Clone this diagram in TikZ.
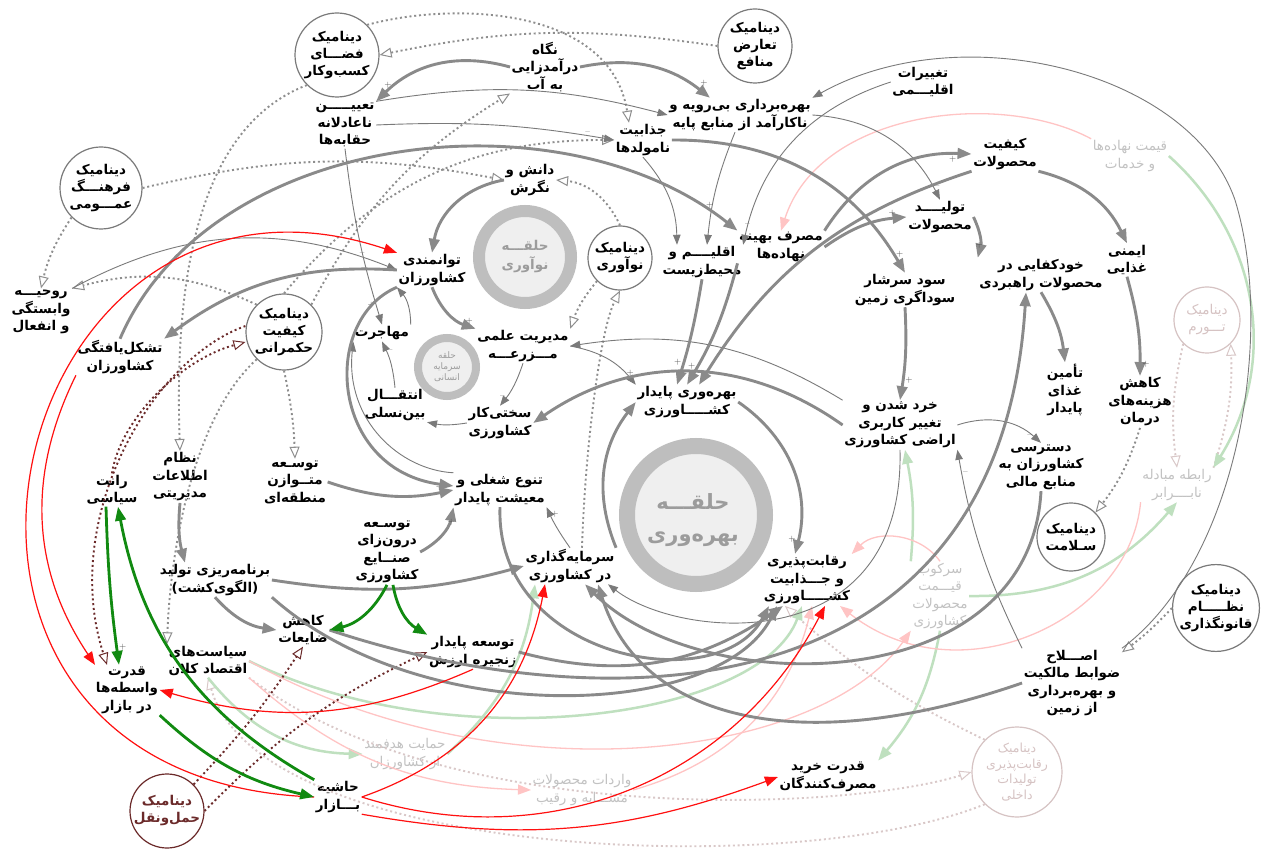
\documentclass[tikz,border=0pt]{standalone}
\usepackage{fontspec}
\usetikzlibrary{arrows.meta}
\TeXXeTstate=1
\newfontfamily\fa[Script=Arabic]{DejaVu Sans}
\newcommand\RL[1]{\beginR#1\endR}
\definecolor{edgegray}{HTML}{8A8A8A}
\definecolor{thingray}{HTML}{7A7A7A}
\definecolor{circgray}{HTML}{7A7A7A}
\definecolor{dotgray}{HTML}{8E8E8E}
\definecolor{ringgray}{HTML}{BEBEBE}
\definecolor{ringfill}{HTML}{EFEFEF}
\definecolor{ringtext}{HTML}{9C9C9C}
\definecolor{fadetext}{HTML}{C2C2C2}
\definecolor{fadecirc}{HTML}{D6C3C3}
\definecolor{fadedot}{HTML}{D9C8C8}
\definecolor{darkred}{HTML}{6B2A2A}
\definecolor{linkred}{HTML}{FF1010}
\definecolor{linkgreen}{HTML}{118A11}
\definecolor{palegreen}{HTML}{BFE0BF}
\definecolor{palered}{HTML}{FFC4C4}
\begin{document}
\begin{tikzpicture}[x=1pt,y=1pt,
  lbl/.style={font=\fa\bfseries\fontsize{13.5}{17.5}\selectfont,align=center,inner sep=1.5pt,text=black},
  fade/.style={font=\fa\fontsize{13.5}{17.5}\selectfont,align=center,inner sep=1.5pt,text=fadetext},
  dyn/.style={circle,draw=circgray,line width=1.2pt,fill=white,align=center,inner sep=0pt,
    font=\fa\bfseries\fontsize{13.5}{17}\selectfont},
  dynfade/.style={dyn,draw=fadecirc,text=fadecirc,font=\fa\fontsize{13.5}{17}\selectfont},
  ringtxt/.style={align=center,text=ringtext,inner sep=0pt},
  sgn/.style={font=\fontsize{9}{9}\selectfont,text=black!70,inner sep=1pt},
  arThick/.style={draw=edgegray,line width=2.9pt,-{Triangle[length=14pt,width=10.5pt]}},
  arThin/.style={draw=thingray,line width=0.9pt,-{Triangle[length=10pt,width=7.5pt]}},
  arDot/.style={draw=dotgray,line width=1.9pt,dash pattern=on 2pt off 2.8pt,-{Triangle[open,length=12pt,width=10pt,line width=1pt]}},
  arDotPale/.style={draw=fadedot,line width=1.9pt,dash pattern=on 2pt off 2.8pt,-{Triangle[open,length=12pt,width=10pt,line width=1pt]}},
  arDotDR/.style={draw=darkred,line width=1.9pt,dash pattern=on 2pt off 2.8pt,-{Triangle[open,length=12pt,width=10pt,line width=1pt]}},
  arRed/.style={draw=linkred,line width=1.2pt,-{Triangle[length=13pt,width=10pt]}},
  arGreen/.style={draw=linkgreen,line width=2.8pt,-{Triangle[length=14pt,width=10.5pt]}},
  arPaleG/.style={draw=palegreen,line width=2.5pt,-{Triangle[length=14pt,width=10.5pt]}},
  arPaleR/.style={draw=palered,line width=1.3pt,-{Triangle[length=13pt,width=10pt]}}]
\useasboundingbox (0,0) rectangle (1270,-850);
\fill[white] (0,0) rectangle (1270,-850);

% ---------- loops (rings) ----------
\node[circle,draw=ringgray,line width=12pt,fill=ringfill,minimum size=92pt] (Lno) at (525,-257) {};
\node[ringtxt,font=\fa\bfseries\fontsize{13.5}{19}\selectfont] (Lnot) at (525,-257) {\RL{حلقـــه}\\\RL{نوآوری}};
\node[circle,draw=ringgray,line width=8pt,fill=ringfill,minimum size=58pt] (Lsi) at (447,-367) {};
\node[ringtxt,font=\fa\fontsize{9}{11}\selectfont] (Lsit) at (447,-367) {\RL{حلقه}\\\RL{سرمایه}\\\RL{انسانی}};
\node[circle,draw=ringgray,line width=16pt,fill=ringfill,minimum size=138pt] (Lb) at (696,-515) {};
\node[ringtxt,font=\fa\bfseries\fontsize{21}{32}\selectfont] (Lbt) at (693,-520) {\RL{حلقـــه}\\\RL{بهره‌وری}};

% ---------- dynamics (circles) ----------
\node[dyn,minimum size=84pt] (cb) at (337,-55) {\RL{دینامیک}\\\RL{فضـــای}\\\RL{کسب‌وکار}};
\node[dyn,minimum size=74pt] (tm) at (755,-46) {\RL{دینامیک}\\\RL{تعارض}\\\RL{منافع}};
\node[dyn,minimum size=82pt] (fa) at (101,-188) {\RL{دینامیک}\\\RL{فرهنـــگ}\\\RL{عمـــومی}};
\node[dyn,minimum size=64pt] (dno) at (620,-258) {\RL{دینامیک}\\\RL{نوآوری}};
\node[dyn,minimum size=76pt] (hk) at (284,-332) {\RL{دینامیک}\\\RL{کیفیت}\\\RL{حکمرانی}};
\node[dynfade,minimum size=66pt] (to) at (1207,-320) {\RL{دینامیک}\\\RL{تـــورم}};
\node[dyn,minimum size=68pt] (sl) at (1071,-537) {\RL{دینامیک}\\\RL{سـلامت}};
\node[dyn,minimum size=84pt] (qg) at (1216,-608) {\RL{دینامیک}\\\RL{نظـــــام}\\\RL{قانونگذاری}};
\node[dyn,draw=darkred,text=darkred,minimum size=74pt] (hn) at (167,-811) {\RL{دینامیک}\\\RL{حمل‌ونقل}};
\node[dynfade,minimum size=90pt,font=\fa\fontsize{12.5}{15.5}\selectfont] (rd) at (1017,-772) {\RL{دینامیک}\\\RL{رقابت‌پذیری}\\\RL{تولیدات}\\\RL{داخلی}};

% ---------- variables ----------
\node[lbl] (ab) at (545,-67) {\RL{نگاه}\\\RL{درآمدزایی}\\\RL{به آب}};
\node[lbl] (ti) at (923,-82) {\RL{تغییرات}\\\RL{اقلیـــمی}};
\node[lbl] (hq) at (345,-125) {\RL{تعییـــــن}\\\RL{ناعادلانه}\\\RL{حقابه‌ها}};
\node[lbl] (bb) at (740,-115) {\RL{بهره‌برداری بی‌رویه و}\\\RL{ناکارآمد از منابع پایه}};
\node[lbl] (jn) at (643,-140) {\RL{جذابیت}\\\RL{نامولدها}};
\node[lbl] (km) at (1005,-154) {\RL{کیفیت}\\\RL{محصولات}};
\node[fade] (qn) at (1130,-156) {\RL{قیمت نهاده‌ها}\\\RL{و خدمات}};
\node[lbl] (dn) at (530,-180) {\RL{دانش و}\\\RL{نگرش}};
\node[lbl] (am) at (702,-262) {\RL{اقلیــــم و}\\\RL{محیط‌زیست}};
\node[lbl] (mb) at (781,-247) {\RL{مصرف بهینه}\\\RL{نهاده‌ها}};
\node[lbl] (tp) at (940,-217) {\RL{تولیــــد}\\\RL{محصولات}};
\node[lbl] (ig) at (1127,-260) {\RL{ایمنی}\\\RL{غذایی}};
\node[lbl] (kk) at (1041,-275) {\RL{خودکفایی در}\\\RL{محصولات راهبردی}};
\node[lbl] (rv) at (41,-312) {\RL{روحیـــه}\\\RL{وابستگی}\\\RL{و انفعال}};
\node[lbl] (tk) at (432,-270) {\RL{توانمندی}\\\RL{کشاورزان}};
\node[lbl] (ss) at (905,-290) {\RL{سود سرشار}\\\RL{سوداگری زمین}};
\node[lbl] (ty) at (120,-357) {\RL{تشکل‌یافتگی}\\\RL{کشاورزان}};
\node[lbl] (mh) at (382,-333) {\RL{مهاجرت}};
\node[lbl] (me) at (523,-346) {\RL{مدیریت علمی}\\\RL{مـــزرعـــه}};
\node[lbl] (tg) at (1065,-390) {\RL{تأمین}\\\RL{غذای}\\\RL{پایدار}};
\node[lbl] (kd) at (1140,-402) {\RL{کاهش}\\\RL{هزینه‌های}\\\RL{درمان}};
\node[lbl] (bp) at (687,-402) {\RL{بهره‌وری پایدار}\\\RL{کشـــــاورزی}};
\node[lbl] (en) at (395,-405) {\RL{انتقـــال}\\\RL{بین‌نسلی}};
\node[lbl] (sk) at (500,-423) {\RL{سختی‌کار}\\\RL{کشاورزی}};
\node[lbl] (kh) at (900,-425) {\RL{خرد شدن و}\\\RL{تغییر کاربری}\\\RL{اراضی کشاورزی}};
\node[lbl] (ds) at (1041,-467) {\RL{دسترسی}\\\RL{کشاورزان به}\\\RL{منابع مالی}};
\node[lbl] (rs) at (112,-490) {\RL{رانت}\\\RL{سیاسی}};
\node[lbl] (ne) at (180,-477) {\RL{نظام}\\\RL{اطلاعات}\\\RL{مدیریتی}};
\node[lbl] (tv) at (295,-482) {\RL{توسـعه}\\\RL{متــوازن}\\\RL{منطقه‌ای}};
\node[lbl] (ts) at (500,-490) {\RL{تنوع شغلی و}\\\RL{معیشت پایدار}};
\node[fade] (rm) at (1177,-485) {\RL{رابطه مبادله}\\\RL{نابــــرابر}};
\node[lbl] (td) at (387,-552) {\RL{توسـعه}\\\RL{درون‌زای}\\\RL{صنــایع}\\\RL{کشاورزی}};
\node[lbl] (sg) at (570,-566) {\RL{سرمایه‌گذاری}\\\RL{در کشاورزی}};
\node[lbl] (rq) at (807,-580) {\RL{رقابت‌پذیری}\\\RL{و جـــذابیت}\\\RL{کشـــــاورزی}};
\node[fade] (sq) at (940,-596) {\RL{سرکوب}\\\RL{قیـــمت}\\\RL{محصولات}\\\RL{کشاورزی}};
\node[lbl] (bt) at (215,-580) {\RL{برنامه‌ریزی تولید}\\\RL{(الگوی‌کشت)}};
\node[lbl] (kz) at (303,-630) {\RL{کاهش}\\\RL{ضایعات}};
\node[lbl] (zv) at (473,-652) {\RL{توسعه پایدار}\\\RL{زنجیره ارزش}};
\node[lbl] (sy) at (208,-661) {\RL{سیاست‌های}\\\RL{اقتصاد کلان}};
\node[lbl] (qv) at (127,-690) {\RL{قدرت}\\\RL{واسطه‌ها}\\\RL{در بازار}};
\node[lbl] (es) at (1072,-683) {\RL{اصـــلاح}\\\RL{ضوابط مالکیت}\\\RL{و بهره‌برداری}\\\RL{از زمین}};
\node[fade] (hm) at (405,-754) {\RL{حمایت هدفمند}\\\RL{از کشاورزان}};
\node[fade] (vm) at (582,-790) {\RL{واردات محصولات}\\\RL{مشـــابه و رقیب}};
\node[lbl] (hb) at (338,-797) {\RL{حاشیه}\\\RL{بـــازار}};
\node[lbl] (qk) at (828,-777) {\RL{قدرت خرید}\\\RL{مصرف‌کنندگان}};

% ---------- faded links ----------
\draw[arDotPale] (to.south west) to[bend right=10] (rm.north);
\draw[arDotPale] (rm.north east) to[bend right=10] (to.south east);
\draw[arDotPale] (sy.south east) .. controls (450,-830) and (850,-810) .. (rd.west);
\draw[arDotPale] (rd.south west) .. controls (800,-880) and (260,-860) .. (sy.south);
\draw[arDotPale] (rd.north west) to[bend left=8] ([xshift=-22pt]rq.south);
\draw[arPaleG] (sy.south) to[bend right=25] (hm.west);
\draw[arPaleG] (hm.east) to[bend right=20] ([xshift=-35pt]sg.south);
\draw[arPaleG] (sq.north west) to[bend right=8] ([xshift=5pt]kh.south);
\draw[arPaleG] (sq.south) to[bend left=15] (qk.north east);
\draw[arPaleG] (qn.east) to[bend left=40] (rm.north east);
\draw[arPaleG] (sq.east) to[bend right=25] (rm.south);
\draw[arPaleG] (sy.east) .. controls (450,-760) and (760,-720) .. ([xshift=-5pt]rq.south);
\draw[arPaleR] (qn.north west) .. controls (1000,-90) and (820,-110) .. (mb.north);
\draw[arPaleR] (sy.south east) to[bend right=20] (vm.west);
\draw[arPaleR] (vm.east) to[bend right=30] ([xshift=5pt]rq.south);
\draw[arPaleR] (sq.north) to[bend right=50] (rq.north east);
\draw[arPaleR] (rm.south west) .. controls (1130,-620) and (960,-700) .. ([xshift=33pt]rq.south);
\draw[arPaleR] (sy.east) .. controls (500,-800) and (820,-760) .. (sq.south west);

% ---------- dotted links from the dynamics ----------
\draw[arDot] (tm.west) to[bend right=10] (cb.east);
\draw[arDot] (cb.north east) .. controls (450,-2) and (610,-5) .. ([xshift=-14pt]jn.north);
\draw[arDot] (fa.east) to[bend left=12] (dn.west);
\draw[arDot] (fa.south west) to[bend right=10] (rv.north);
\draw[arDot] (hk.north) to[bend left=25] (jn.west);
\draw[arDot] (hk.north east) to[bend left=15] (ab.south west);
\draw[arDot] (hk.north west) to[bend right=20] (rv.north east);
\draw[arDot] (cb.south west) .. controls (190,-130) and (175,-300) .. (ne.north);
\draw[arDot] (hk.south) to[bend left=5] (tv.north);
\draw[arDot] (hk.south west) .. controls (190,-420) and (170,-560) .. (sy.north west);
\draw[arDot] (dno.north) to[bend right=30] (dn.east);
\draw[arDot] (dno.south west) to[bend right=10] (me.north east);
\draw[arDot] ([xshift=12pt]sg.north) .. controls (585,-450) and (600,-330) .. (dno.south);
\draw[arDot] (kd.south) to[bend left=10] (sl.north east);
\draw[arDot] (qg.west) to[bend left=5] ([yshift=-4pt]es.north east);
\draw[arDotDR] ([yshift=6pt]hk.west) .. controls (150,-360) and (60,-520) .. ([xshift=-20pt]qv.north);
\draw[arDotDR] (rs.north) .. controls (120,-420) and (180,-360) .. ([yshift=-10pt]hk.west);
\draw[arDotDR] (hn.north east) to[bend right=5] (kz.south);
\draw[arDotDR] (hn.east) to[bend left=10] (zv.west);

% ---------- thin links ----------
\draw[arThin] (ti.west) to[bend right=30] node[sgn,pos=.93,above]{–} (am.north east);
\draw[arThin] (es.north east) .. controls (1240,-560) and (1275,-330) .. (1235,-200)
   .. controls (1190,-70) and (960,-15) .. (bb.north east);
\draw[arThin] (bb.east) to[bend left=30] node[sgn,pos=.92,right]{–} (tp.north);
\draw[arThin] ([xshift=-5pt]bb.south) to[bend right=8] ([xshift=5pt]am.north);
\draw[arThin] (jn.south) to[bend left=20] ([xshift=-25pt]am.north);
\draw[arThin] (hq.east) to[bend left=6] node[sgn,pos=.9,above]{–} (jn.west);
\draw[arThin] (hq.north east) to[bend left=12] (bb.west);
\draw[arThin] (hq.south) to[bend right=5] node[sgn,pos=.9,left]{+} (mh.north);
\draw[arThin] (me.east) to[bend left=20] node[sgn,pos=.9,above]{+} (bp.north west);
\draw[arThin] (me.south) to[bend left=10] node[sgn,pos=.8,left]{–} (sk.north);
\draw[arThin] (kh.north west) to[bend right=20] (me.east);
\draw[arThin] (sk.west) to[bend left=10] (en.south east);
\draw[arThin] (en.north) to[bend right=10] node[sgn,pos=.8,right]{–} (mh.south);
\draw[arThin] (mh.north east) to[bend right=20] (tk.south west);
\draw[arThin] (ts.north west) .. controls (400,-470) and (345,-420) .. (mh.south west);
\draw[arThin] (sg.north) to[bend left=5] node[sgn,pos=.85,right]{+} (ts.south east);
\draw[arThin] (kh.east) to[bend left=30] node[sgn,pos=.9,left]{–} (ds.north);
\draw[arThin] (es.north west) to[bend left=8] node[sgn,pos=.9,right]{–} (kh.south east);
\draw[arThin] (rv.north east) to[bend left=25] node[sgn,pos=.9,above]{–} (tk.west);
\draw[arThin] (kh.south) .. controls (905,-660) and (680,-640) .. ([xshift=38pt]sg.south);

% ---------- thick links ----------
\draw[arThick] (ab.west) to[bend right=30] node[sgn,pos=.9,above]{+} (hq.north east);
\draw[arThick] (ab.east) to[bend left=25] node[sgn,pos=.9,above right]{+} ([xshift=-30pt]bb.north);
\draw[arThick] (dn.west) to[bend right=35] (tk.north);
\draw[arThick] (tk.west) to[bend right=20] (ty.north east);
\draw[arThick] (ty.north) .. controls (210,-130) and (560,-90) .. node[sgn,pos=.95,above]{+} (mb.north west);
\draw[arThick] (mb.east) to[bend left=15] node[sgn,pos=.85,above]{+} (tp.west);
\draw[arThick] (mb.north east) to[bend left=30] node[sgn,pos=.9,below]{+} (km.west);
\draw[arThick] (km.south east) to[bend left=25] (ig.north);
\draw[arThick] (tp.east) to[bend left=20] node[sgn,pos=.85,above]{+} (kk.north west);
\draw[arThick] (kk.south) to[bend left=12] (tg.north);
\draw[arThick] (ig.south) to[bend left=8] node[sgn,pos=.9,right]{+} (kd.north);
\draw[arThick] (jn.east) to[bend left=30] node[sgn,pos=.93,right]{+} (ss.north);
\draw[arThick] (ss.south) to[bend left=6] node[sgn,pos=.8,right]{+} (kh.north);
\draw[arThick] (tk.south) to[bend right=25] node[sgn,pos=.9,above]{+} (me.north west);
\draw[arThick] (am.south) to[bend left=4] node[sgn,pos=.8,left]{+} ([xshift=-10pt]bp.north);
\draw[arThick] (mb.south west) to[bend left=8] node[sgn,pos=.85,left]{+} (bp.north);
\draw[arThick] (km.south west) to[bend right=20] ([xshift=12pt]bp.north);
\draw[arThick] (bp.east) to[bend left=35] node[sgn,pos=.92,left]{+} ([xshift=-12pt]rq.north);
\draw[arThick] (sg.north east) to[bend left=30] (bp.west);
\draw[arThick] (tv.east) to[bend right=15] node[sgn,pos=.9,above]{+} (ts.west);
\draw[arThick] (td.east) to[bend right=25] node[sgn,pos=.85,below]{+} (ts.south west);
\draw[arThick] (bt.south) to[bend right=20] (kz.west);
\draw[arThick] (ne.south) to[bend right=10] ([xshift=-30pt]bt.north);
\draw[arThick] (tk.south west) .. controls (320,-320) and (330,-470) .. ([yshift=4pt]ts.west);
\draw[arThick] (kh.west) to[bend right=35] (sk.east);
\draw[arThick] (ts.south) .. controls (495,-660) and (720,-700) .. ([xshift=-38pt]rq.south);
\draw[arThick] (bt.east) to[bend right=12] (sg.west);
\draw[arThick] (bt.south east) .. controls (420,-730) and (720,-720) .. ([xshift=-30pt]rq.south);
\draw[arThick] (kz.east) .. controls (600,-720) and (1000,-720) .. ([xshift=-15pt]kk.south);
\draw[arThick] (zv.east) to[bend right=25] ([xshift=-24pt]rq.south);
\draw[arThick] (ds.south) .. controls (1030,-700) and (700,-700) .. ([xshift=15pt]sg.south);
\draw[arThick] (es.west) .. controls (800,-760) and (640,-720) .. ([xshift=28pt]sg.south);

% ---------- red links ----------
\draw[arRed] (hb.west) .. controls (-150,-780) and (0,-120) .. (tk.north west);
\draw[arRed] (ty.south west) to[bend right=30] ([xshift=-32pt]qv.north);
\draw[arRed] (zv.south) to[bend left=20] (qv.east);
\draw[arRed] (hb.east) to[bend right=30] ([xshift=-25pt]sg.south);
\draw[arRed] (hb.east) to[bend right=40] ([xshift=18pt]rq.south);
\draw[arRed] (hb.south east) to[bend right=15] (qk.west);

% ---------- green links ----------
\draw[arGreen] (td.south) to[bend left=25] (kz.east);
\draw[arGreen] ([xshift=6pt]td.south) to[bend right=25] (zv.north west);
\draw[arGreen] ([xshift=-6pt]rs.south) to[bend right=3] node[sgn,pos=.9,right]{+} ([xshift=-8pt]qv.north);
\draw[arGreen] (qv.south east) to[bend right=15] (hb.west);
\draw[arGreen] (hb.north west) to[bend left=25] ([xshift=6pt]rs.south);
\end{tikzpicture}
\end{document}
